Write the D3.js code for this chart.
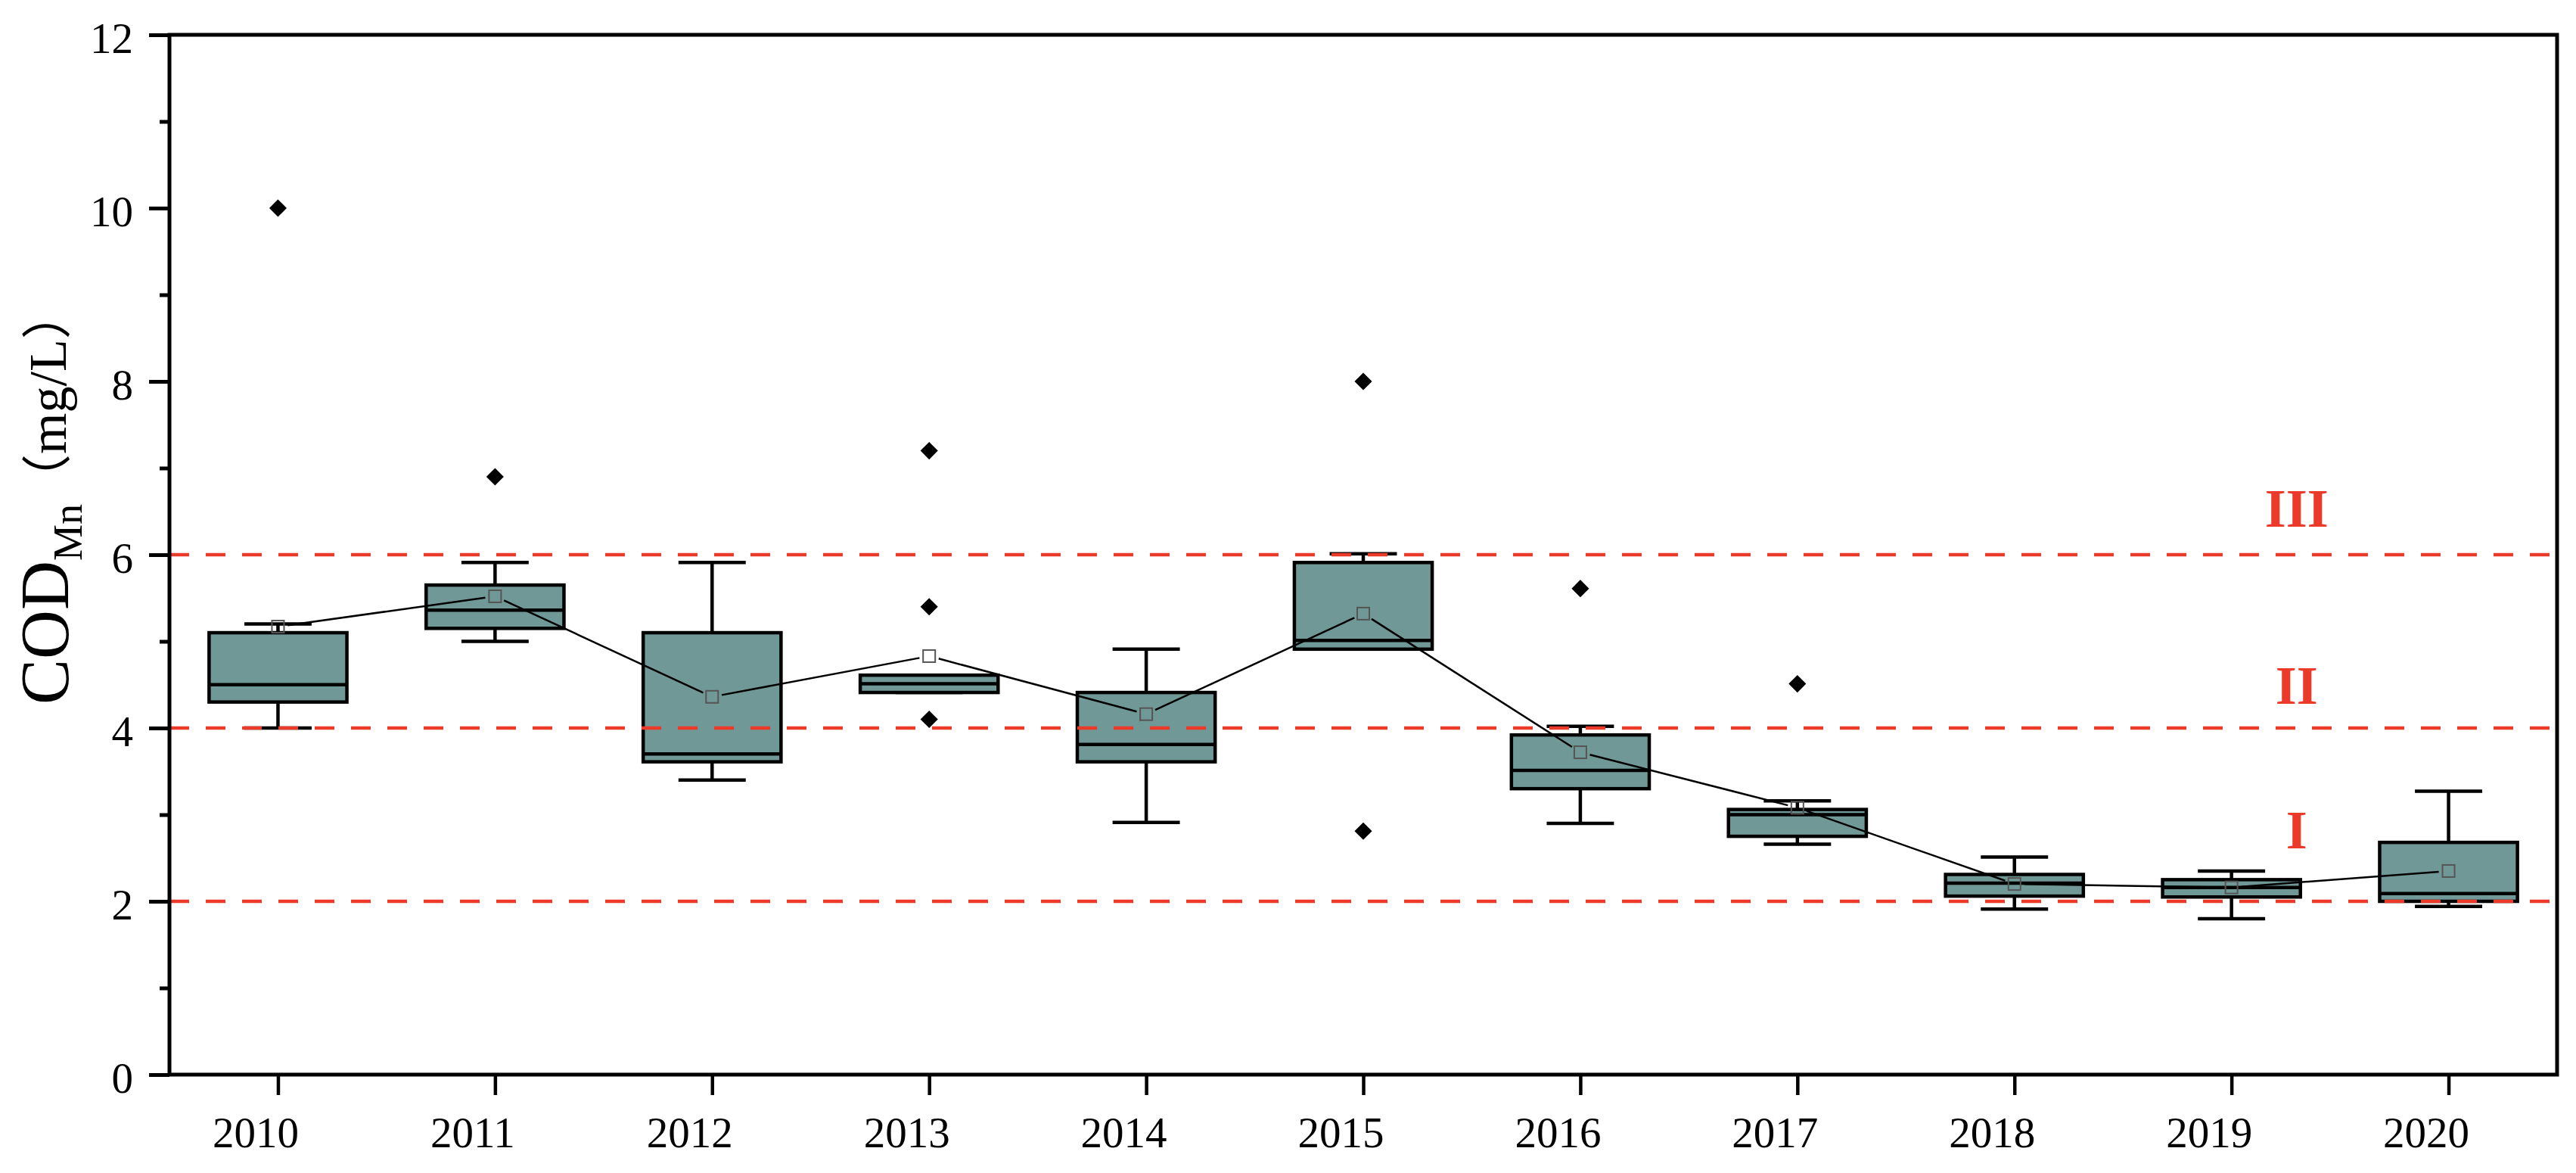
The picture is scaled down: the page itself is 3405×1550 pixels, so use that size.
<!DOCTYPE html>
<html>
<head>
<meta charset="utf-8">
<script src="https://cdn.jsdelivr.net/npm/d3@7"></script>
<style>
  body { margin: 0; background: #fff; }
  svg { display: block; }
</style>
</head>
<body>
<svg id="chart" width="3405" height="1550"></svg>
<script>
// data
const years = ["2010", "2011", "2012", "2013", "2014", "2015", "2016", "2017", "2018", "2019", "2020"];
const whiskerLow  = [4.00, 5.00, 3.40, 4.41, 2.91, 4.91, 2.90, 2.66, 1.91, 1.80, 1.94];
const q1          = [4.30, 5.15, 3.61, 4.41, 3.61, 4.91, 3.30, 2.75, 2.06, 2.05, 2.00];
const medians     = [4.50, 5.36, 3.70, 4.51, 3.81, 5.01, 3.51, 3.00, 2.21, 2.16, 2.09];
const q3          = [5.10, 5.65, 5.10, 4.61, 4.41, 5.91, 3.92, 3.06, 2.31, 2.25, 2.68];
const whiskerHigh = [5.20, 5.91, 5.91, 4.61, 4.91, 6.01, 4.02, 3.16, 2.51, 2.35, 3.27];
const means       = [5.17, 5.52, 4.36, 4.83, 4.16, 5.32, 3.72, 3.08, 2.20, 2.16, 2.35];
const outliers    = [[10.0], [6.9], [], [7.2, 5.4, 4.1], [], [8.0, 2.81], [5.61], [4.51], [], [], []];

const yMajorTicks = [0, 2, 4, 6, 8, 10, 12];
const yMinorTicks = [1, 3, 5, 7, 9, 11];
const gradeLines = [2, 4, 6];
const gradeLabels = ["I", "II", "III"];
const gradeLabelY = [2.61, 4.28, 6.32];

const boxFill = "#709896";
const red = "#ec3a2a";
const serif = "'Liberation Serif', 'Times New Roman', serif";

const svg = d3.select("#chart");
const plotL = 224, plotR = 3380, plotT = 46, plotB = 1420;

const x = d3.scalePoint().domain(years).range([plotL, plotR]).padding(0.5);
const y = d3.scaleLinear().domain([0, 12]).range([plotB, plotT]);
const bw = x.step() * 0.635;
const capW = x.step() * 0.31;

// y axis, major + minor ticks
const yAxis = svg.append("g")
    .attr("transform", `translate(${plotL},0)`)
    .call(d3.axisLeft(y).tickValues(yMajorTicks).tickSize(27).tickSizeOuter(0).tickPadding(21));
yAxis.select(".domain").remove();
yAxis.selectAll("line").attr("stroke-width", 5);
yAxis.selectAll("text")
    .attr("font-family", serif).attr("font-size", 57).attr("fill", "#000").attr("dy", "0.42em");

const yMinor = svg.append("g")
    .attr("transform", `translate(${plotL},0)`)
    .call(d3.axisLeft(y).tickValues(yMinorTicks).tickSize(13).tickFormat(""));
yMinor.select(".domain").remove();
yMinor.selectAll("line").attr("stroke-width", 5);

// x axis
const xAxis = svg.append("g")
    .attr("transform", `translate(0,${plotB})`)
    .call(d3.axisBottom(x).tickSize(27).tickSizeOuter(0).tickPadding(29));
xAxis.select(".domain").remove();
xAxis.selectAll("line").attr("stroke-width", 4.5);
xAxis.selectAll("text")
    .attr("font-family", serif).attr("font-size", 57).attr("fill", "#000").attr("x", -30);

// boxes
const stats = years.map((yr, i) => ({
    year: yr, lo: whiskerLow[i], q1: q1[i], med: medians[i], q3: q3[i], hi: whiskerHigh[i],
    mean: means[i], out: outliers[i]
}));

const g = svg.append("g").attr("stroke", "#000").attr("stroke-width", 4.5);
const bx = g.selectAll("g.box").data(stats).join("g").attr("class", "box");

bx.append("line") // lower whisker
    .attr("x1", d => x(d.year)).attr("x2", d => x(d.year))
    .attr("y1", d => y(d.q1)).attr("y2", d => y(d.lo));
bx.append("line") // upper whisker
    .attr("x1", d => x(d.year)).attr("x2", d => x(d.year))
    .attr("y1", d => y(d.q3)).attr("y2", d => y(d.hi));
bx.append("line")
    .attr("x1", d => x(d.year) - capW / 2).attr("x2", d => x(d.year) + capW / 2)
    .attr("y1", d => y(d.lo)).attr("y2", d => y(d.lo));
bx.append("line")
    .attr("x1", d => x(d.year) - capW / 2).attr("x2", d => x(d.year) + capW / 2)
    .attr("y1", d => y(d.hi)).attr("y2", d => y(d.hi));
bx.append("rect")
    .attr("x", d => x(d.year) - bw / 2).attr("width", bw)
    .attr("y", d => y(d.q3)).attr("height", d => y(d.q1) - y(d.q3))
    .attr("fill", boxFill);
bx.append("line")
    .attr("x1", d => x(d.year) - bw / 2).attr("x2", d => x(d.year) + bw / 2)
    .attr("y1", d => y(d.med)).attr("y2", d => y(d.med));

// water quality grade lines
svg.append("g").selectAll("line").data(gradeLines).join("line")
    .attr("x1", plotL).attr("x2", plotR)
    .attr("y1", d => y(d)).attr("y2", d => y(d))
    .attr("stroke", red).attr("stroke-width", 4.5).attr("stroke-dasharray", "26 22");

svg.append("g").selectAll("text").data(gradeLabels).join("text")
    .attr("x", x(years[9]) + x.step() * 0.3)
    .attr("y", (d, i) => y(gradeLabelY[i]))
    .attr("text-anchor", "middle")
    .attr("font-family", serif).attr("font-weight", "bold").attr("font-size", 72)
    .attr("fill", red)
    .text(d => d);

// outliers
const diamond = d3.symbol().type(d3.symbolDiamond2).size(340);
svg.append("g").selectAll("path")
    .data(stats.flatMap(d => d.out.map(v => ({ year: d.year, v }))))
    .join("path")
    .attr("transform", d => `translate(${x(d.year)},${y(d.v)})`)
    .attr("d", diamond)
    .attr("fill", "#000");

// mean line, segments stop short of the markers
const pts = stats.map(d => [x(d.year), y(d.mean)]);
const line = d3.line();
const segs = d3.pairs(pts).map(([a, b]) => {
    const dx = b[0] - a[0], dy = b[1] - a[1], len = Math.hypot(dx, dy), k = 13 / len;
    return [[a[0] + dx * k, a[1] + dy * k], [b[0] - dx * k, b[1] - dy * k]];
});
svg.append("g").selectAll("path").data(segs).join("path")
    .attr("d", line).attr("fill", "none").attr("stroke", "#000").attr("stroke-width", 2.5);

svg.append("g").selectAll("rect").data(stats).join("rect")
    .attr("x", d => x(d.year) - 8).attr("y", d => y(d.mean) - 8)
    .attr("width", 16).attr("height", 16)
    .attr("fill", "none").attr("stroke", "#555").attr("stroke-width", 2);

// frame
svg.append("rect")
    .attr("x", plotL).attr("y", plotT).attr("width", plotR - plotL).attr("height", plotB - plotT)
    .attr("fill", "none").attr("stroke", "#000").attr("stroke-width", 5);

// y title: COD_Mn（mg/L）
const title = svg.append("g").attr("transform", "translate(90,931) rotate(-90)")
    .attr("font-family", serif).attr("fill", "#000");
let cx = 0;
const tCod = title.append("text").attr("x", cx).attr("y", 0).attr("font-size", 90).text("COD");
cx += tCod.node().getComputedTextLength();
const tSub = title.append("text").attr("x", cx).attr("y", 18).attr("font-size", 54).text("Mn");
cx += tSub.node().getComputedTextLength();
const tOpen = title.append("text").attr("x", cx).attr("y", -4)
    .attr("font-family", "'Noto Sans CJK SC', sans-serif").attr("font-size", 66).text("（");
cx += tOpen.node().getComputedTextLength();
const tUnit = title.append("text").attr("x", cx).attr("y", -3).attr("font-size", 70).text("mg/L");
cx += tUnit.node().getComputedTextLength();
title.append("text").attr("x", cx).attr("y", -4)
    .attr("font-family", "'Noto Sans CJK SC', sans-serif").attr("font-size", 66).text("）");
</script>
</body>
</html>
